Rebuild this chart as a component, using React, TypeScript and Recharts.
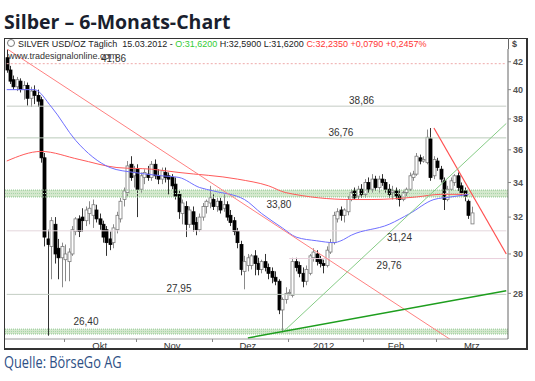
import { ComposedChart, Bar, Line, XAxis, YAxis, ReferenceLine, ReferenceArea, ReferenceDot } from 'recharts';

// daily OHLC, 08.09.2011 - 15.03.2012
const opens = [
  42.3, 41.4, 40.7, 40.2, 40.6, 40.0, 40.3, 39.4, 39.9, 39.6, 39.3, 35.5, 30.8, 30.4, 31.6, 30.3, 29.8,
  29.7, 29.6, 30.0, 31.2, 31.9, 32.0, 31.8, 32.2, 32.1, 32.4, 31.9, 31.6, 31.3, 30.8, 30.6, 31.3, 31.9, 33.0, 33.4, 35.1, 34.4,
  34.8, 33.6, 34.3, 34.5, 34.3, 35.1, 34.4, 34.2, 34.6, 34.4, 34.3, 33.9, 33.3, 32.2, 32.6, 31.6, 32.3, 31.7, 31.3, 32.0, 32.6, 32.8,
  33.0, 32.6, 32.9, 32.5, 32.7, 32.1, 31.8, 31.2, 30.5, 29.1, 29.4, 29.4, 29.9, 29.5, 29.2, 29.6, 29.3, 29.1, 28.8, 28.6, 27.2, 27.7,
  28.0, 27.9, 29.6, 29.4, 29.0, 28.6, 29.0, 29.8, 30.0, 29.7, 29.5, 29.4, 30.1, 30.6, 31.9, 32.4, 32.1, 32.3, 33.0, 33.5, 33.2, 33.6,
  33.3, 34.0, 33.6, 34.2, 33.7, 34.2, 34.0, 33.6, 33.4, 33.5, 33.2, 33.0, 33.4, 33.6, 34.3, 34.5, 35.5, 35.3, 35.2, 36.7, 34.4,
  35.3, 34.8, 34.1, 33.0, 33.6, 34.0, 34.4, 33.8, 33.5, 32.9, 31.62,
];
const highs = [
  42.9, 41.7, 41.0, 40.9, 40.8, 40.6, 40.5, 40.2, 40.3, 40.0, 39.5, 35.8, 31.3, 32.0, 32.0, 30.8, 30.6,
  30.5, 30.3, 31.5, 32.0, 32.1, 32.5, 32.6, 32.9, 33.0, 32.7, 32.2, 31.8, 31.5, 31.2, 31.6, 32.3, 33.1, 33.7, 35.3, 35.6, 35.0,
  35.1, 34.6, 34.8, 35.0, 35.3, 35.4, 34.8, 34.9, 34.9, 34.6, 34.5, 34.3, 33.5, 33.0, 32.9, 32.6, 32.6, 32.0, 32.2, 32.8, 33.0, 33.8,
  33.3, 33.1, 33.1, 33.3, 32.9, 32.4, 32.0, 31.4, 30.7, 29.9, 30.0, 30.0, 30.2, 29.8, 29.7, 30.0, 29.5, 29.3, 29.1, 28.7, 27.8, 28.3,
  28.2, 29.8, 29.8, 29.6, 29.3, 29.4, 30.0, 30.3, 30.2, 29.9, 29.7, 30.4, 30.8, 32.3, 32.5, 32.6, 32.5, 33.2, 33.6, 33.7, 33.8, 33.9,
  34.2, 34.3, 34.5, 34.4, 34.4, 34.5, 34.2, 33.9, 33.8, 33.7, 33.6, 33.5, 33.7, 34.6, 34.7, 35.8, 35.7, 35.6, 37.3, 37.4, 35.6,
  35.5, 35.0, 34.3, 33.8, 34.3, 34.5, 34.6, 34.0, 33.7, 33.0, 32.59,
];
const lows = [
  41.2, 40.4, 40.0, 39.9, 39.8, 39.3, 38.9, 38.8, 39.0, 38.8, 35.2, 30.4, 26.0, 28.7, 29.5, 28.7, 28.3,
  28.6, 28.6, 29.9, 31.0, 30.9, 31.2, 31.5, 31.6, 31.4, 31.7, 31.3, 30.6, 29.9, 30.2, 30.3, 31.1, 31.7, 32.6, 33.2, 34.1, 33.7,
  32.0, 33.4, 33.9, 34.1, 34.1, 34.2, 33.9, 33.9, 34.0, 33.3, 33.6, 33.0, 31.9, 31.6, 30.9, 31.4, 31.2, 31.0, 31.2, 31.8, 32.2, 32.5,
  32.4, 32.3, 32.2, 32.3, 31.8, 31.5, 31.0, 30.3, 28.9, 28.2, 29.1, 29.2, 28.9, 28.9, 29.0, 29.1, 28.7, 28.5, 28.4, 27.0, 26.15, 27.5,
  27.9, 27.8, 29.1, 28.8, 28.3, 28.4, 28.9, 29.6, 29.4, 29.3, 29.0, 29.3, 30.0, 30.5, 31.7, 31.8, 31.7, 32.1, 32.9, 33.0, 33.0, 33.1,
  33.1, 33.4, 33.4, 33.5, 33.4, 33.8, 33.4, 33.1, 33.0, 33.0, 32.6, 32.9, 33.2, 33.5, 34.1, 34.4, 35.1, 35.2, 35.1, 34.1, 34.2,
  34.7, 34.0, 32.4, 32.9, 33.5, 33.8, 33.5, 33.2, 32.9, 31.9, 31.62,
];
const closes = [
  41.4, 40.6, 40.2, 40.7, 40.0, 40.3, 39.4, 39.9, 39.6, 39.2, 35.5, 30.9, 30.5, 31.8, 30.0, 29.8, 30.4,
  30.0, 30.1, 31.3, 31.9, 31.2, 31.8, 32.4, 32.5, 32.7, 31.9, 31.6, 30.9, 30.6, 30.5, 31.4, 32.1, 32.9, 33.5, 35.0, 34.3, 34.6,
  33.6, 34.4, 34.6, 34.3, 35.1, 34.4, 34.2, 34.7, 34.3, 34.2, 33.8, 33.2, 32.3, 32.8, 31.6, 32.4, 31.6, 31.3, 32.0, 32.6, 32.9, 33.1,
  32.6, 32.9, 32.4, 32.7, 32.0, 31.7, 31.2, 30.6, 29.2, 29.6, 29.8, 29.9, 29.5, 29.2, 29.6, 29.3, 29.0, 28.8, 28.6, 27.2, 27.7, 28.0,
  28.05, 29.6, 29.3, 29.0, 28.6, 29.2, 29.9, 30.1, 29.6, 29.5, 29.4, 30.2, 30.6, 32.1, 32.3, 32.1, 32.4, 33.0, 33.4, 33.1, 33.6, 33.3,
  34.0, 33.6, 34.2, 33.7, 34.2, 34.0, 33.6, 33.3, 33.5, 33.2, 33.0, 33.4, 33.6, 34.4, 34.5, 35.6, 35.3, 35.4, 36.8, 34.3, 35.4,
  34.9, 34.2, 33.0, 33.6, 34.1, 34.4, 33.7, 33.4, 33.2, 32.1, 32.235,
];
const totalSlots = 146;

// moving averages: [day index, value]
const blueAvg = [
  [0, 40.0], [8, 40.0], [13, 38.8], [20, 36.6], [30, 34.9], [37, 34.6], [45, 34.4], [50, 34.3], [56, 33.7],
  [60, 33.5], [69, 33.0], [74, 32.2], [80, 31.4], [84, 30.9], [90, 30.7], [95, 30.6], [97, 30.7], [100, 31.0],
  [111, 31.6], [117, 32.2], [124, 33.0], [129, 33.15], [134, 33.3],
];
const redAvg = [
  [0, 35.3], [10, 35.9], [21, 35.4], [32, 34.9], [42, 34.8], [50, 34.6], [67, 34.2], [76, 33.8], [81, 33.4],
  [100, 33.0], [106, 33.0], [119, 33.15], [126, 33.3], [134, 33.3],
];

const yTicks = [28, 30, 32, 34, 36, 38, 40, 42];
const monthStarts = [17, 38, 60, 82, 104, 125];
const monthLabelIdx = [27, 48, 70, 92, 113, 135];
const monthNames = ['Okt', 'Nov', 'Dez', '2012', 'Feb', 'Mrz'];

// horizontal levels: value, label text, label index, label above line?
const levels = [
  { v: 41.86, text: '41,86', at: 31, above: true, color: '#eeaaaa', dash: '2 2', from: 0 },
  { v: 38.86, text: '38,86', at: 103, above: true, color: '#c4cbc4', dash: undefined, from: 0 },
  { v: 36.76, text: '36,76', at: 97, above: true, color: '#b9cbb9', dash: undefined, from: 0 },
  { v: 31.24, text: '31,24', at: 114, above: false, color: '#e4d6dc', dash: undefined, from: 0 },
  { v: 29.76, text: '29,76', at: 111, above: false, color: '#e9cfdc', dash: undefined, from: 82 },
  { v: 27.95, text: '27,95', at: 50, above: true, color: '#c3cdc3', dash: undefined, from: 0 },
];
const bands = [
  { lo: 33.15, hi: 33.55, text: '33,80', at: 79, labelV: 33.15 },
  { lo: 26.08, hi: 26.3, text: '26,40', at: 23, labelV: 26.3 },
];

// trend lines: [index, value] end points
const trendDown = [[0, 42.97], [135, 25.2]];
const trendSteep = [[124, 37.4], [145, 30.0]];
const trendUpThin = [[80, 26.14], [145, 37.7]];
const trendUpThick = [[70, 25.9], [145, 28.13]];

const data = Array.from({ length: totalSlots }, (_, i) => {
  const row: any = { i };
  if (i < closes.length) {
    row.o = opens[i];
    row.h = highs[i];
    row.l = lows[i];
    row.c = closes[i];
    row.range = [lows[i], highs[i]];
  }
  const b = blueAvg.find((p) => p[0] === i);
  if (b) row.blue = b[1];
  const r = redAvg.find((p) => p[0] === i);
  if (r) row.red = r[1];
  return row;
});

const Candle = (props: any) => {
  const { x, y, width, height, payload } = props;
  if (!payload || payload.o == null) return null;
  const { o, h, l, c } = payload;
  const yTop = Math.min(y, y + height);
  const hh = Math.abs(height);
  const lh = Math.log(h);
  const ll = Math.log(l);
  const py = (v: number) => (lh === ll ? yTop : yTop + (hh * (lh - Math.log(v))) / (lh - ll));
  const cx = Math.round(x + width / 2) + 0.5;
  const top = py(Math.max(o, c));
  const bot = py(Math.min(o, c));
  const up = c >= o;
  return (
    <g>
      <line x1={cx} x2={cx} y1={yTop} y2={yTop + hh} stroke={up ? '#8a8a8a' : '#333'} strokeWidth={1} />
      <rect
        x={cx - 1.5}
        y={top}
        width={3}
        height={Math.max(bot - top, 1)}
        fill={up ? '#ffffff' : '#000000'}
        stroke={up ? '#7a7a7a' : '#000000'}
        strokeWidth={0.8}
      />
    </g>
  );
};

const MonthTick = (props: any) => {
  const { x, y, payload } = props;
  const idx = monthLabelIdx.indexOf(payload.value);
  if (idx >= 0) {
    return (
      <text x={x} y={y + 9.5} textAnchor="middle" fontSize={9.5} fill="#333" fontFamily="'Liberation Sans', Arial, sans-serif">
        {monthNames[idx]}
      </text>
    );
  }
  const bx = Math.round(x - 503 / totalSlots / 2) + 0.5;
  return <line x1={bx} x2={bx} y1={y} y2={y + 3} stroke="#888" />;
};

const labelStyle = { fontSize: 10, fill: '#333', fontFamily: "'Liberation Sans', Arial, sans-serif" };

export default function App() {
  return (
    <div style={{ position: 'absolute', left: 0, top: 0, width: 535, height: 381, background: '#fff', overflow: 'hidden' }}>
      <div
        style={{
          position: 'absolute',
          left: 4,
          top: 8,
          fontFamily: "'Open Sans', sans-serif",
          fontWeight: 700,
          fontSize: 19.5,
          color: '#1a1f2e',
          whiteSpace: 'nowrap',
        }}
      >
        Silber – 6-Monats-Chart
      </div>

      <div
        style={{
          position: 'absolute',
          left: 4,
          top: 38,
          width: 524,
          height: 312,
          boxSizing: 'border-box',
          border: '1px solid #333',
          borderRightWidth: 2,
          borderBottomWidth: 2,
        }}
      />
      <div style={{ position: 'absolute', left: 508, top: 38, width: 1, height: 11, background: '#666' }} />

      <div
        style={{
          position: 'absolute',
          left: 7,
          top: 39,
          fontFamily: "'Liberation Sans', Arial, sans-serif",
          fontSize: 9,
          color: '#222',
          whiteSpace: 'pre',
        }}
      >
        <span style={{ display: 'inline-block', width: 6, height: 6, border: '1px solid #777', borderRadius: 4, marginRight: 3 }} />
        {'SILVER USD/OZ Täglich  15.03.2012 - '}
        <span style={{ color: '#33cc33' }}>O:31,6200</span>
        {' H:32,5900 L:31,6200 '}
        <span style={{ color: '#ff3333' }}>C:32,2350 +0,0790 +0,2457%</span>
      </div>
      <div
        style={{
          position: 'absolute',
          left: 512,
          top: 39,
          fontFamily: "'Liberation Sans', Arial, sans-serif",
          fontSize: 9,
          fontWeight: 700,
          color: '#444',
        }}
      >
        $
      </div>

      <div style={{ position: 'absolute', left: 4, top: 38 }}>
        <ComposedChart width={524} height={312} data={data} margin={{ top: 11, right: 0, bottom: 0, left: 1 }} barCategoryGap={0}>
          <XAxis
            dataKey="i"
            type="category"
            ticks={[...monthStarts, ...monthLabelIdx]}
            interval={0}
            tick={<MonthTick />}
            tickLine={false}
            tickSize={0}
            tickMargin={0}
            axisLine={{ stroke: '#999' }}
            height={11}
          />
          <YAxis
            orientation="right"
            scale="log"
            type="number"
            domain={[25.85, 42.95]}
            allowDataOverflow
            ticks={yTicks}
            width={20}
            tickSize={3}
            tickLine={{ stroke: '#888' }}
            axisLine={{ stroke: '#666' }}
            tick={{ fontSize: 9, fontWeight: 700, fill: '#555', fontFamily: "'Liberation Sans', Arial, sans-serif" }}
          />

          {bands.map((b) => (
            <ReferenceArea key={b.text} y1={b.lo} y2={b.hi} fill="#cfe6c8" fillOpacity={0.9} stroke="none" ifOverflow="hidden" />
          ))}
          {bands.map((b) => (
            <ReferenceLine key={b.text + 'a'} y={b.lo} stroke="#8cc48c" strokeDasharray="1 1" />
          ))}
          {bands.map((b) => (
            <ReferenceLine key={b.text + 'b'} y={b.hi} stroke="#8cc48c" strokeDasharray="1 1" />
          ))}
          {bands.map((b) => (
            <ReferenceLine key={b.text + 'c'} y={Math.sqrt(b.lo * b.hi)} stroke="#a8d4a8" strokeDasharray="1 1" />
          ))}
          {levels.map((lv) => (
            <ReferenceLine
              key={lv.text}
              segment={[{ x: lv.from, y: lv.v }, { x: totalSlots - 1, y: lv.v }]}
              stroke={lv.color}
              strokeDasharray={lv.dash}
            />
          ))}

          <Bar dataKey="range" shape={<Candle />} isAnimationActive={false} />

          <Line dataKey="red" type="monotone" stroke="#ff5a5a" strokeWidth={1} dot={false} connectNulls isAnimationActive={false} />
          <Line dataKey="blue" type="monotone" stroke="#6f6fff" strokeWidth={1} dot={false} connectNulls isAnimationActive={false} />

          <ReferenceLine
            segment={[{ x: trendDown[0][0], y: trendDown[0][1] }, { x: trendDown[1][0], y: trendDown[1][1] }]}
            stroke="#ff8080"
            ifOverflow="hidden"
          />
          <ReferenceLine
            segment={[{ x: trendSteep[0][0], y: trendSteep[0][1] }, { x: trendSteep[1][0], y: trendSteep[1][1] }]}
            stroke="#ff5050"
            strokeWidth={1.2}
            ifOverflow="hidden"
          />
          <ReferenceLine
            segment={[{ x: trendUpThin[0][0], y: trendUpThin[0][1] }, { x: trendUpThin[1][0], y: trendUpThin[1][1] }]}
            stroke="#86cc86"
            ifOverflow="hidden"
          />
          <ReferenceLine
            segment={[{ x: trendUpThick[0][0], y: trendUpThick[0][1] }, { x: trendUpThick[1][0], y: trendUpThick[1][1] }]}
            stroke="#1e9e1e"
            strokeWidth={1.5}
            ifOverflow="hidden"
          />

          {levels.map((lv) => (
            <ReferenceDot
              key={lv.text + 'l'}
              x={lv.at}
              y={lv.v}
              r={0}
              stroke="none"
              fill="none"
              label={{ value: lv.text, position: lv.above ? 'top' : 'bottom', offset: lv.above ? 2 : 3, ...labelStyle }}
            />
          ))}
          {bands.map((b) => (
            <ReferenceDot
              key={b.text + 'l'}
              x={b.at}
              y={b.labelV}
              r={0}
              stroke="none"
              fill="none"
              label={{ value: b.text, position: b.labelV === b.lo ? 'bottom' : 'top', offset: 4, ...labelStyle }}
            />
          ))}
        </ComposedChart>
      </div>

      <div
        style={{
          position: 'absolute',
          left: 8,
          top: 51,
          fontFamily: "'Liberation Sans', Arial, sans-serif",
          fontSize: 9,
          color: '#333',
          whiteSpace: 'nowrap',
        }}
      >
        www.tradesignalonline.com
      </div>

      <div
        style={{
          position: 'absolute',
          left: 4,
          top: 351,
          fontFamily: "'Open Sans', sans-serif",
          fontSize: 16,
          color: '#2d4f85',
          whiteSpace: 'nowrap',
          transform: 'scaleX(0.8)',
          transformOrigin: 'left top',
        }}
      >
        Quelle: BörseGo AG
      </div>
    </div>
  );
}
